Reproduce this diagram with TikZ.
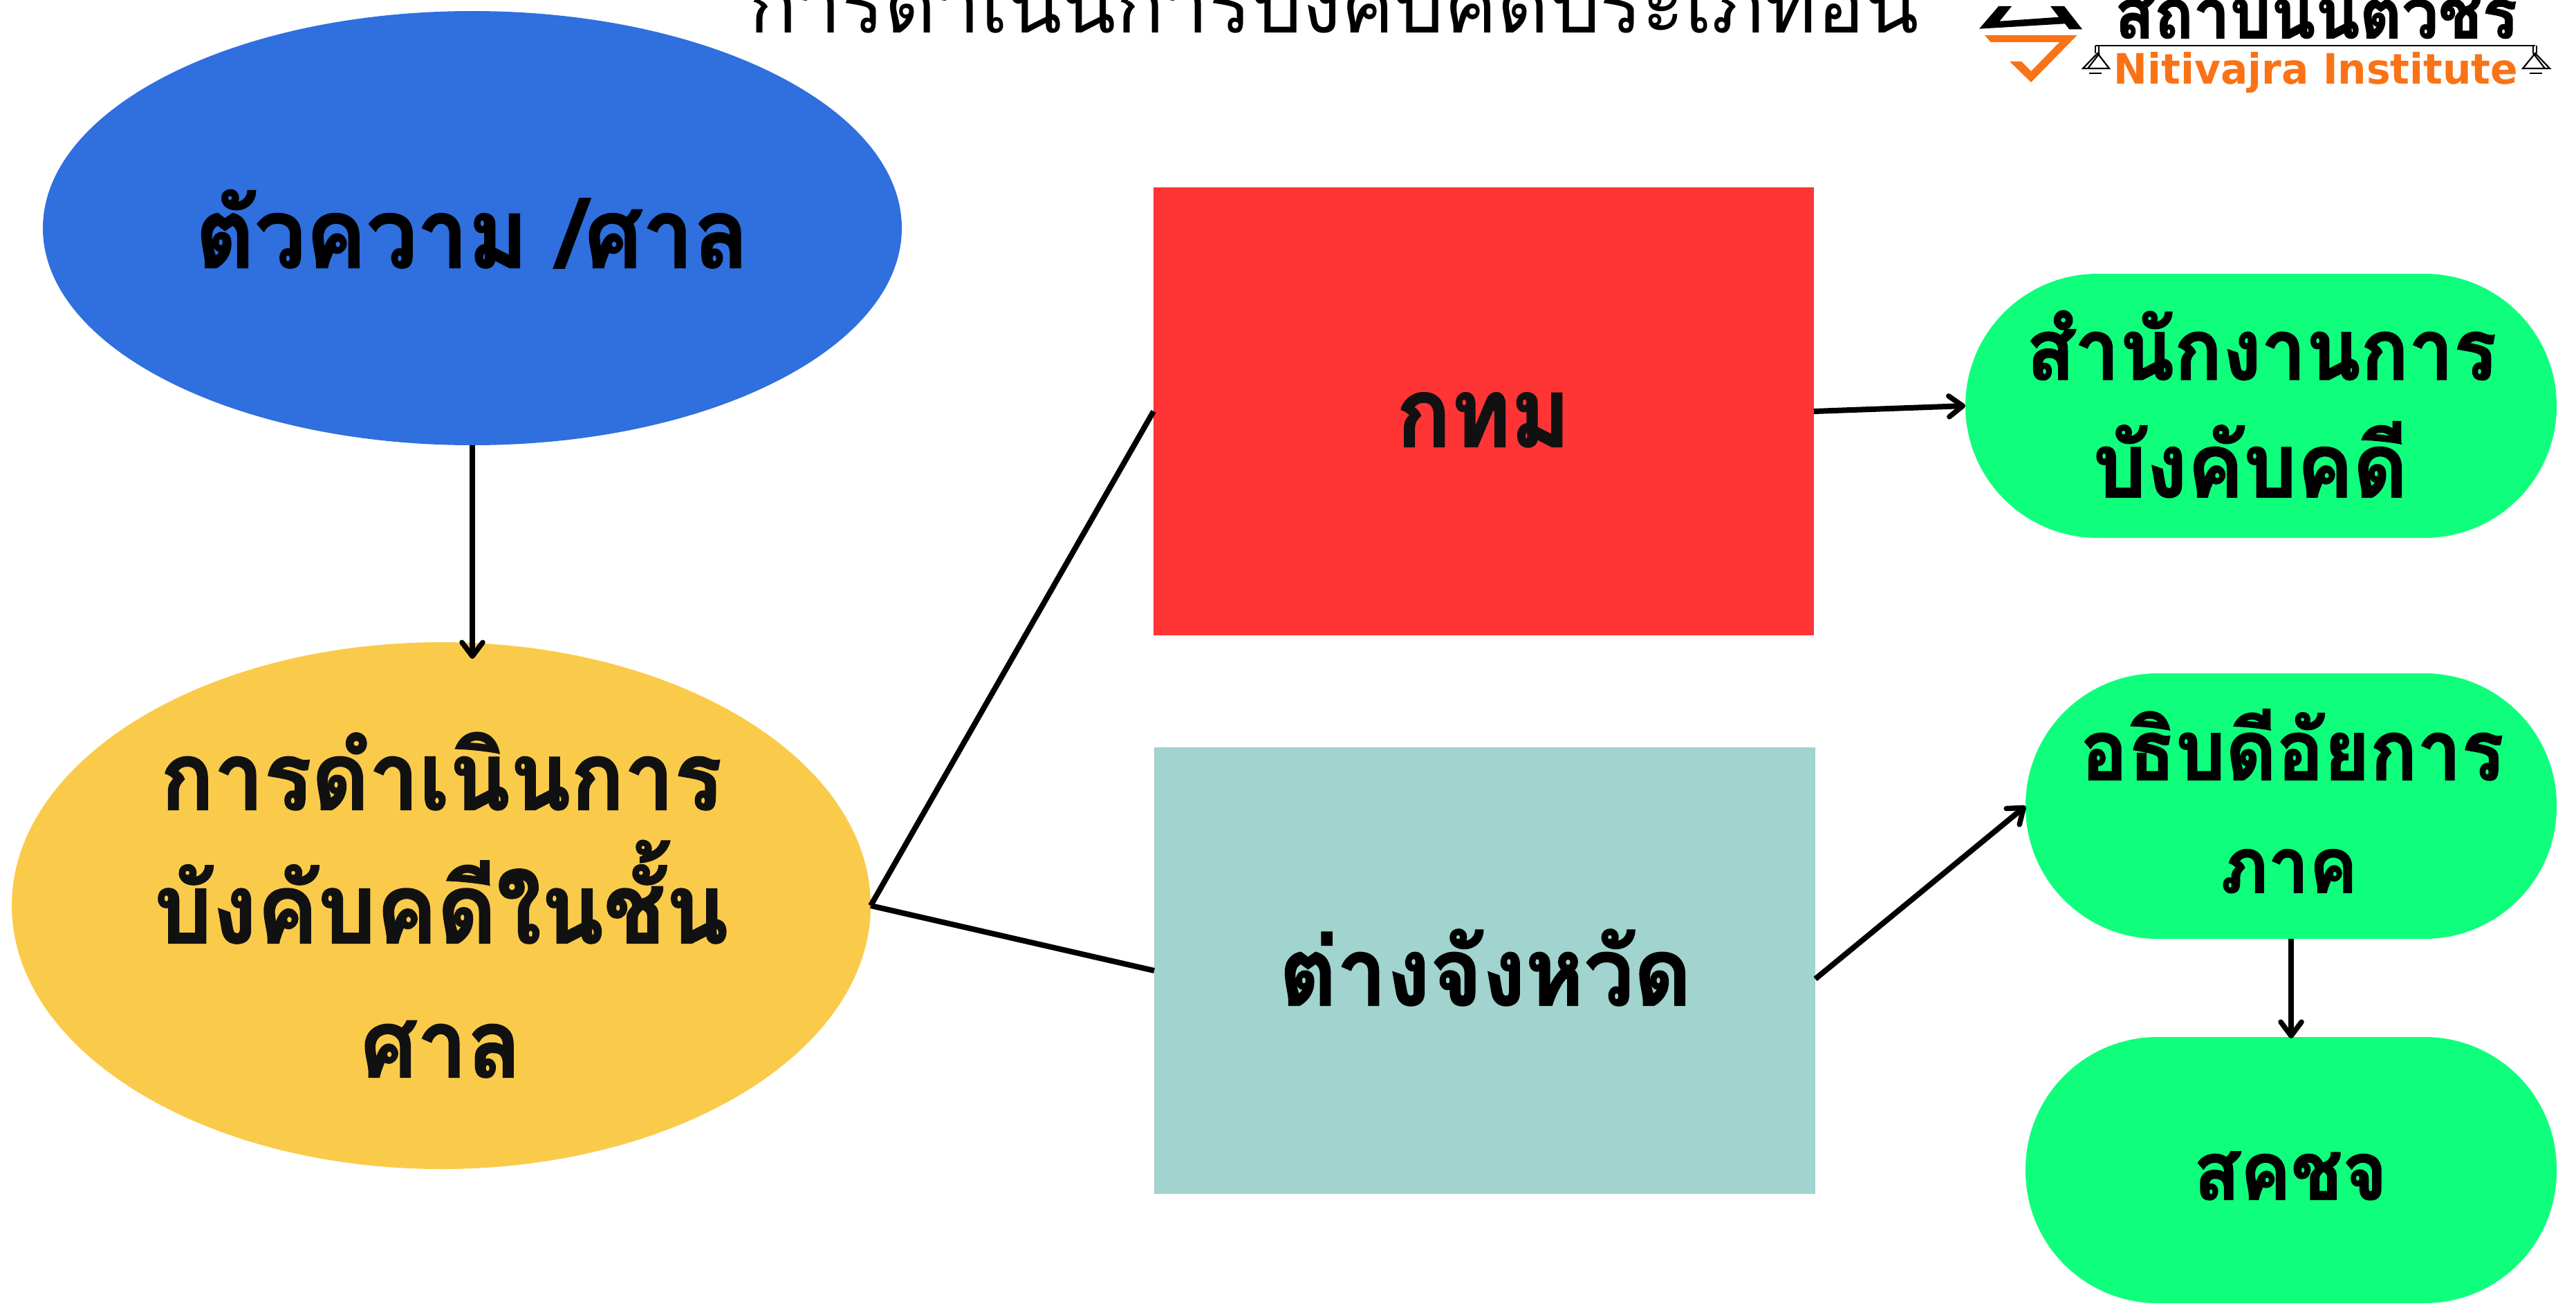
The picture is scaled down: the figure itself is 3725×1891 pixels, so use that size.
\documentclass[tikz,border=0pt]{standalone}
\usepackage{fontspec}
\usetikzlibrary{shapes.geometric,arrows.meta}
\setmainfont{Liberation Sans}
\newfontfamily\thaifont[Script=Thai]{Loma}
\newfontfamily\thaiheavy[Script=Thai,UprightFont=* Bold,FakeBold=1.6]{Loma}
\definecolor{bluefill}{HTML}{2F6FDE}
\definecolor{yellowfill}{HTML}{FACB4A}
\definecolor{redfill}{HTML}{FF3535}
\definecolor{tealfill}{HTML}{A1D3CF}
\definecolor{greenfill}{HTML}{0FFF7C}
\definecolor{logoorange}{HTML}{F97316}
\definecolor{inktext}{HTML}{111111}
\newlength{\unitpx}
\setlength{\unitpx}{0.01cm}
\newcommand{\fitbold}[2]{\resizebox{#1\unitpx}{!}{\scalebox{1}[1.06]{\thaiheavy\fontsize{40}{40}\selectfont #2}}}
\tikzset{
  x=0.01cm,y=-0.01cm,
  oval/.style={ellipse,inner sep=0pt,outer sep=0pt},
  boxnode/.style={rectangle,inner sep=0pt,outer sep=0pt},
  pill/.style={rectangle,rounded corners=191*0.01cm,inner sep=0pt,outer sep=0pt,fill=greenfill},
  conn/.style={line width=0.08cm,black},
  arr/.style={conn,-{Straight Barb[round,length=0.2cm,width=0.3cm,line width=0.075cm]}},
  lab/.style={inner sep=0pt,anchor=base,text=black},
  logoline/.style={black,line width=0.022cm},
}
\begin{document}
\begin{tikzpicture}
\useasboundingbox (0,0) rectangle (3725,1891);
\clip (0,0) rectangle (3725,1891);
% title
\node[lab] (title) at (1929,48) {\resizebox{16.9cm}{!}{\thaifont\fontsize{30}{30}\selectfont การดำเนินการบังคับคดีประเภทอื่น}};
% shapes
\node[oval,fill=bluefill,minimum width=1242*0.01cm,minimum height=628*0.01cm] (blue) at (683,330) {};
\node[oval,fill=yellowfill,minimum width=1242*0.01cm,minimum height=762*0.01cm] (yellow) at (638,1310) {};
\node[boxnode,fill=redfill,minimum width=955*0.01cm,minimum height=648*0.01cm] (red) at (2145.5,595) {};
\node[boxnode,fill=tealfill,minimum width=956*0.01cm,minimum height=646*0.01cm] (teal) at (2147,1404) {};
\node[pill,minimum width=855*0.01cm,minimum height=382*0.01cm] (g1) at (3269.5,587) {};
\node[pill,minimum width=768*0.01cm,minimum height=384*0.01cm] (g2) at (3313,1166) {};
\node[pill,minimum width=768*0.01cm,minimum height=385*0.01cm] (g3) at (3313,1692.5) {};
% labels
\node[lab] (bluet) at (683,387) {\fitbold{800}{ตัวความ /ศาล}};
\node[lab,text=inktext] (y1) at (638,1171) {\fitbold{812}{การดำเนินการ}};
\node[lab,text=inktext] (y2) at (638,1364) {\fitbold{830}{บังคับคดีในชั้น}};
\node[lab,text=inktext] (y3) at (638,1558) {\fitbold{232}{ศาล}};
\node[lab,text=inktext] (redt) at (2145,646) {\fitbold{252}{กทม}};
\node[lab] (tealt) at (2148,1454) {\fitbold{596}{ต่างจังหวัด}};
\node[lab] (g1a) at (3270,549) {\fitbold{680}{สำนักงานการ}};
\node[lab] (g1b) at (3254,719) {\fitbold{455}{บังคับคดี}};
\node[lab] (g2a) at (3314.5,1128) {\fitbold{612}{อธิบดีอัยการ}};
\node[lab] (g2b) at (3310,1291) {\fitbold{198}{ภาค}};
\node[lab] (g3t) at (3312,1735) {\fitbold{280}{สคชจ}};
% connectors
\coordinate (yin) at (683,953);
\draw[arr] (blue.south) -- (yin);
\draw[conn] (yellow.east) -- (red.west);
\draw[conn] (yellow.east) -- (teal.west);
\draw[arr] (red.east) -- (g1.west);
\draw[arr] ([yshift=-0.12cm]teal.east) -- (g2.west);
\draw[arr] (g2.south) -- ([yshift=-0.02cm]g3.north);
% logo
\fill[black] (2862,41.7) -- (2890,9) -- (2909,9) -- (2891.5,30.7) -- (2977,24.7) -- (2965,9) -- (2985,9) -- (3011,42.3) -- (2992,42.3) -- (2986,34.3) -- cycle;
\fill[logoorange] (2870,51) -- (3003.5,51) -- (2937,119) -- (2906,89) -- (2923,89) -- (2937,103) -- (2978,61) -- (2878.5,61) -- cycle;
\node[lab] (logoa) at (3349,55) {\fitbold{582}{สถาบันนิติวัชร}};
\node[lab,text=logoorange] (logob) at (3349,121) {\resizebox{5.84cm}{0.46cm}{\fontspec{DejaVu Sans}\bfseries Nitivajra Institute}};
\draw[logoline] (3030,65.7) -- (3666,65.7);
\draw[logoline] (3030,65.7) -- (3030,77) (3035,65.7) -- (3035,77);
\draw[logoline] (3663,65.7) -- (3663,77) (3668,65.7) -- (3668,77);
\draw[logoline] (3012,99) -- (3033,77) -- (3050,99) -- cycle (3019,99) -- (3036,77);
\draw[logoline] (3648,99) -- (3666,77) -- (3687,99) -- cycle (3680,99) -- (3663,77);
\draw[logoline] (3021,106) -- (3039,106) (3658,106) -- (3676,106);
\end{tikzpicture}
\end{document}
